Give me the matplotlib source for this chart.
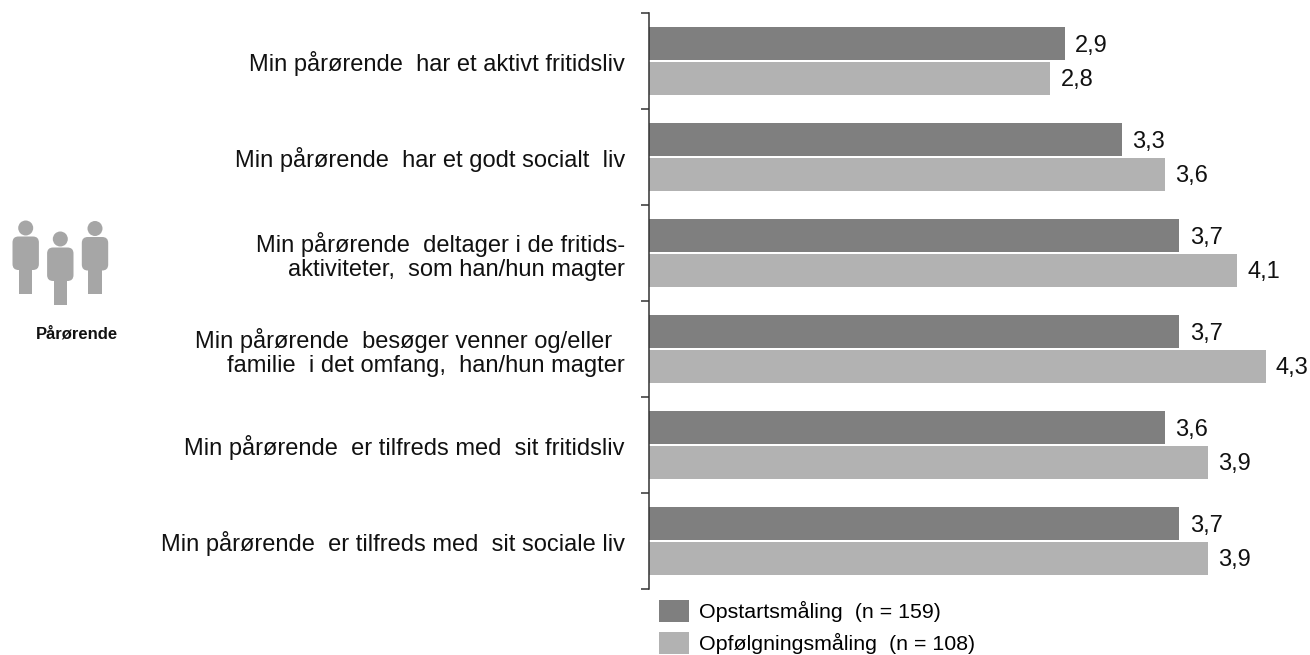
import matplotlib
matplotlib.use("Agg")
import matplotlib.pyplot as plt
from matplotlib.patches import Circle, FancyBboxPatch, Rectangle

plt.rcParams['font.family'] = ['Liberation Sans', 'DejaVu Sans']

categories = [
    "Min pårørende  har et aktivt fritidsliv",
    "Min pårørende  har et godt socialt  liv",
    "Min pårørende  deltager i de fritids-\naktiviteter,  som han/hun magter",
    "Min pårørende  besøger venner og/eller  \nfamilie  i det omfang,  han/hun magter",
    "Min pårørende  er tilfreds med  sit fritidsliv",
    "Min pårørende  er tilfreds med  sit sociale liv",
]
start_values = [2.9, 3.3, 3.7, 3.7, 3.6, 3.7]
followup_values = [2.8, 3.6, 4.1, 4.3, 3.9, 3.9]
start_labels = ["2,9", "3,3", "3,7", "3,7", "3,6", "3,7"]
followup_labels = ["2,8", "3,6", "4,1", "4,3", "3,9", "3,9"]
series_names = ["Opstartsmåling  (n = 159)", "Opfølgningsmåling  (n = 108)"]

W, H = 1310, 655
DARK = "#7f7f7f"
LIGHT = "#b2b2b2"
ICON = "#a6a6a6"
FS = 17

fig = plt.figure(figsize=(W / 100, H / 100), dpi=100)
ax = fig.add_axes([648.5 / W, 1 - 589 / H, (W - 648.5) / W, 576 / H])

y = list(range(len(categories)))
h1 = ax.barh([i - 0.182 for i in y], start_values, height=0.345, color=DARK, label=series_names[0])
h2 = ax.barh([i + 0.18 for i in y], followup_values, height=0.345, color=LIGHT, label=series_names[1])
texts = ax.bar_label(h1, labels=start_labels, padding=7.5, fontsize=FS, color="#111111")
texts += ax.bar_label(h2, labels=followup_labels, padding=7.5, fontsize=FS, color="#111111")
for t in texts:
    t.xyann = (t.xyann[0], -1.5)  # labels sit a little below bar centre

ax.set_xlim(0, (W - 648.5) / 143.5)
ax.set_ylim(5.5, -0.5)
ax.set_xticks([])
ax.set_yticks([i - 0.5 for i in range(len(categories) + 1)])
ax.set_yticklabels([])
ax.tick_params(axis="y", which="major", length=6, width=1.1, color="#333333")
ax.set_yticks(y, minor=True)
ax.set_yticklabels(categories, minor=True, fontsize=FS, color="#111111", multialignment="right", linespacing=1.1)
ax.tick_params(axis="y", which="minor", length=0, pad=17)
for s in ["top", "right", "bottom"]:
    ax.spines[s].set_visible(False)
ax.spines["left"].set_linewidth(1.1)
ax.spines["left"].set_color("#333333")

ax.legend(handles=[h1, h2], loc="upper left", bbox_to_anchor=(655 / W, 1 - 596 / H),
          bbox_transform=fig.transFigure, frameon=False, fontsize=15.4, handlelength=1.4,
          handleheight=1.2, handletextpad=0.47, labelspacing=0.45, borderpad=0.2, borderaxespad=0)

# people icon, overlay in pixel coordinates
overlay = fig.add_axes([0, 0, 1, 1], facecolor="none")
overlay.set_xlim(0, W)
overlay.set_ylim(H, 0)
overlay.axis("off")
for cx, top in [(25.7, 220.5), (60.3, 231.5), (95, 221)]:
    overlay.add_patch(Circle((cx, top + 7.5), 7.5, color=ICON, lw=0))
    overlay.add_patch(FancyBboxPatch((cx - 13.2 + 5, top + 16 + 5), 16.4, 23.5,
                                     boxstyle="round,pad=5,rounding_size=6", color=ICON, lw=0))
    overlay.add_patch(Rectangle((cx - 6.7, top + 40), 13.4, 33, color=ICON, lw=0))
overlay.text(77, 334, "Pårørende", ha="center", va="center", fontsize=12, fontweight="bold", color="#111111")

fig.savefig("out.png", dpi=100)
